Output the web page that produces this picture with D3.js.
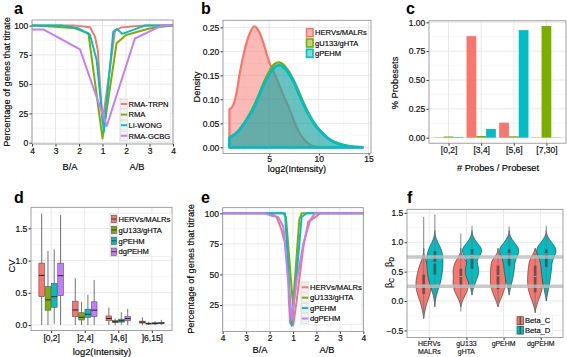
<!DOCTYPE html>
<html>
<head>
<meta charset="utf-8">
<script src="https://cdn.jsdelivr.net/npm/d3@7/dist/d3.min.js"></script>
<style>
  body { margin: 0; background: #fff; }
  svg { display: block; font-family: "Liberation Sans", Arial, sans-serif; }
</style>
</head>
<body>
<div id="fig"></div>
<script>
// ggplot hue palette
var hue = ["#F8766D", "#7CAE00", "#00BFC4", "#C77CFF"];

// titration axis: 0 = ratio 1, negative = B/A side, positive = A/B side
var ratioTicks = [-3, -2, -1, 0, 1, 2, 3];
var ratioLabels = ["4", "3", "2", "1", "2", "3", "4"];

// panel a
var aNames = ["RMA-TRPN", "RMA", "LI-WONG", "RMA-GCBG"];
var aTrpnX = [-3, -2, -1.17, -0.53, -0.32, -0.2, 0.0, 0.53, 0.8, 1.8, 3];
var aTrpnY = [100, 100, 100, 98.6, 90.6, 79, 17, 95.7, 98.5, 100, 100];
var aRmaX = [-3, -2, -1.17, -0.6, 0.0, 0.6, 1.0, 2, 2.5, 3];
var aRmaY = [100, 99, 97.7, 93.5, 3.7, 85, 92, 97.5, 99, 100];
var aWongX = [-3, -1.7, -1.03, -0.53, -0.25, 0.06, 0.46, 0.62, 0.84, 1.8, 3];
var aWongY = [100, 100, 97.7, 92, 70.7, 9.5, 95, 97, 93, 100, 100];
var aGcbgX = [-3, -2.5, -0.96, 0.18, 1.38, 2.52, 3];
var aGcbgY = [96.6, 96.6, 79.8, 14.3, 89, 100, 100];

// panel b: density of log2 intensity
var bNames = ["HERVs/MALRs", "gU133/gHTA", "gPEHM"];
var bX = [1, 1.3, 1.7, 2, 2.5, 3, 3.5, 4, 4.5, 5, 5.5, 6, 6.5, 7, 7.5, 8, 8.5, 9, 9.5, 10, 10.5, 11, 11.5, 12, 12.5, 13, 13.5, 14, 14.4];
var bHervs = [0.08, 0.085, 0.112, 0.15, 0.2, 0.235, 0.252, 0.24, 0.212, 0.178, 0.155, 0.13, 0.105, 0.082, 0.055, 0.032, 0.017, 0.007, 0.002, 0.001, 0, 0, 0, 0, 0, 0, 0, 0, 0];
var bGu133 = [0.02, 0.024, 0.03, 0.037, 0.051, 0.068, 0.088, 0.112, 0.137, 0.158, 0.173, 0.177, 0.171, 0.157, 0.138, 0.115, 0.091, 0.07, 0.052, 0.038, 0.027, 0.018, 0.012, 0.008, 0.005, 0.003, 0.0015, 0.0006, 0];
var bGpehm = [0.02, 0.024, 0.03, 0.036, 0.05, 0.066, 0.085, 0.108, 0.132, 0.152, 0.166, 0.171, 0.166, 0.153, 0.135, 0.11, 0.087, 0.067, 0.05, 0.037, 0.026, 0.017, 0.011, 0.007, 0.004, 0.002, 0.001, 0.0004, 0];

// panel c: share of probesets by probes per probeset
var cBins = ["[0,2]", "[3,4]", "[5,6]", "[7,30]"];
var cHervs = [0.003, 0.88, 0.13, 0.003];
var cGu133 = [0.01, 0.015, 0.012, 0.968];
var cGpehm = [0.005, 0.075, 0.932, 0.002];

// panel d: CV boxplots [min, q1, median, q3, max]
var dNames = ["HERVs/MALRs", "gU133/gHTA", "gPEHM", "dgPEHM"];
var dBins = ["[0,2]", "]2,4]", "]4,6]", "]6,15]"];
var dHervs = [[0, 0.44, 0.77, 0.96, 1.73], [0, 0.13, 0.233, 0.37, 0.725], [0, 0.066, 0.1, 0.14, 0.27], [0, 0.03, 0.045, 0.06, 0.12]];
var dGu133 = [[0, 0.23, 0.39, 0.595, 1.15], [0, 0.078, 0.12, 0.19, 0.36], [0, 0.04, 0.05, 0.07, 0.1], [0, 0.015, 0.02, 0.03, 0.05]];
var dGpehm = [[0.02, 0.275, 0.44, 0.645, 1.17], [0, 0.12, 0.166, 0.245, 0.47], [0, 0.045, 0.065, 0.09, 0.2], [0, 0.015, 0.025, 0.035, 0.06]];
var dDgpehm = [[0, 0.455, 0.765, 0.96, 1.71], [0, 0.13, 0.23, 0.36, 0.7], [0, 0.065, 0.1, 0.13, 0.25], [0, 0.02, 0.03, 0.04, 0.08]];

// panel e
var eNames = ["HERVs/MALRs", "gU133/gHTA", "gPEHM", "dgPEHM"];
var eHervsX = [-3, -0.98, -0.7, -0.48, -0.38, -0.22, -0.18, -0.12, 0.01, 0.16, 0.44, 0.65, 1.01, 1.15, 3];
var eHervsY = [100, 100, 97, 86, 78, 74, 30, 10, 8.5, 29, 72.6, 93, 97.7, 100, 100];
var eGu133X = [-3, -0.41, -0.3, 0.0, 0.27, 0.37, 3];
var eGu133Y = [100, 100, 97, 25, 95, 100, 100];
var eGpehmX = [-3, -0.34, -0.06, 0.16, 0.37, 0.58, 3];
var eGpehmY = [100, 100, 8, 51, 97, 100, 100];
var eDgpehmX = [-3, -1.19, -0.91, -0.63, -0.41, -0.2, -0.06, 0.16, 0.44, 0.73, 0.94, 3];
var eDgpehmY = [100, 100, 98, 97, 89, 43, 12.7, 45, 75, 94.4, 100, 100];

// panel f: violins of beta values, density on a common grid
var fCats = ["HERVs\nMALRs", "gU133\ngHTA", "gPEHM", "dgPEHM"];
var fGroups = ["Beta_C", "Beta_D"];
var fGridY = [-0.3, -0.2, -0.1, 0, 0.1, 0.2, 0.3, 0.4, 0.5, 0.6, 0.7, 0.8, 0.9, 1.0, 1.1, 1.2, 1.3];
var fDensC = [
  [0, 0.08, 0.2, 0.38, 0.6, 0.76, 0.8, 0.72, 0.6, 0.44, 0.2, 0.01, 0, 0, 0, 0, 0],
  [0, 0, 0, 0.14, 0.44, 0.72, 0.8, 0.74, 0.8, 0.72, 0.46, 0.03, 0, 0, 0, 0, 0],
  [0, 0, 0, 0.18, 0.44, 0.66, 0.76, 0.76, 0.76, 0.72, 0.62, 0.05, 0, 0, 0, 0, 0],
  [0, 0, 0.1, 0.3, 0.52, 0.7, 0.76, 0.76, 0.72, 0.66, 0.56, 0.18, 0, 0, 0, 0, 0]
];
var fDensD = [
  [0, 0, 0, 0.05, 0.15, 0.34, 0.54, 0.68, 0.76, 0.8, 0.82, 0.78, 0.6, 0.28, 0.05, 0, 0],
  [0, 0, 0, 0, 0, 0.1, 0.3, 0.56, 0.72, 0.6, 0.46, 0.96, 1.0, 0.45, 0.08, 0, 0],
  [0, 0, 0, 0, 0, 0.1, 0.26, 0.38, 0.5, 0.54, 0.62, 0.96, 1.0, 0.48, 0.08, 0, 0],
  [0, 0, 0, 0, 0.1, 0.22, 0.34, 0.42, 0.5, 0.54, 0.62, 0.96, 1.0, 0.52, 0.08, 0, 0]
];
// [min, q1, median, q3, max]
var fBoxC = [[-0.28, 0.12, 0.27, 0.45, 1.43], [-0.18, 0.25, 0.42, 0.55, 1.15], [-0.03, 0.2, 0.43, 0.6, 0.77], [-0.15, 0.15, 0.42, 0.6, 0.82]];
var fBoxD = [[-0.05, 0.45, 0.65, 0.85, 1.47], [0.15, 0.55, 0.78, 0.88, 1.28], [0.15, 0.6, 0.8, 0.88, 1.27], [0.07, 0.58, 0.8, 0.88, 1.28]];
var fRefLines = [0.25, 0.75];

// ---------------- drawing ----------------
var svg = d3.select("#fig").append("svg")
    .attr("width", 567)
    .attr("height", 357);
svg.append("rect").attr("width", 567).attr("height", 357).attr("fill", "#fff");

var textCol = "#111";
var tickSize = 8.5, titleSize = 9.3, legSize = 7.6;

function panel(l, t, r, b) {
    var g = svg.append("g").attr("transform", "translate(" + l + "," + t + ")");
    g.append("rect").attr("width", r - l).attr("height", b - t).attr("fill", "#fff");
    return { g: g, w: r - l, h: b - t, l: l, t: t };
}

function grid(p, x, y, xMaj, xMin, yMaj, yMin) {
    var gg = p.g.append("g");
    gg.selectAll(".ym").data(yMin).enter().append("line")
        .attr("x1", 0).attr("x2", p.w)
        .attr("y1", function (d) { return y(d); }).attr("y2", function (d) { return y(d); })
        .attr("stroke", "#f2f2f2").attr("stroke-width", 0.6);
    gg.selectAll(".xm").data(xMin).enter().append("line")
        .attr("y1", 0).attr("y2", p.h)
        .attr("x1", function (d) { return x(d); }).attr("x2", function (d) { return x(d); })
        .attr("stroke", "#f2f2f2").attr("stroke-width", 0.6);
    gg.selectAll(".yM").data(yMaj).enter().append("line")
        .attr("x1", 0).attr("x2", p.w)
        .attr("y1", function (d) { return y(d); }).attr("y2", function (d) { return y(d); })
        .attr("stroke", "#e8e8e8").attr("stroke-width", 1);
    gg.selectAll(".xM").data(xMaj).enter().append("line")
        .attr("y1", 0).attr("y2", p.h)
        .attr("x1", function (d) { return x(d); }).attr("x2", function (d) { return x(d); })
        .attr("stroke", "#e8e8e8").attr("stroke-width", 1);
}

function styleAxis(a) {
    a.attr("font-family", null).attr("font-size", tickSize);
    a.select(".domain").remove();
    a.selectAll("line").attr("stroke", "#333");
    a.selectAll("text").attr("fill", textCol).attr("stroke", textCol).attr("stroke-width", 0.2);
}

function axes(p, xAxis, yAxis) {
    var ax = p.g.append("g").attr("transform", "translate(0," + p.h + ")").call(xAxis);
    var ay = p.g.append("g").call(yAxis);
    styleAxis(ax);
    styleAxis(ay);
    return ax;
}

function border(p) {
    p.g.append("rect").attr("width", p.w).attr("height", p.h)
        .attr("fill", "none").attr("stroke", "#8a8a8a").attr("stroke-width", 0.8);
}

function label(x, y, txt, size, rotate, anchor) {
    var t = svg.append("text").attr("font-size", size).attr("fill", "#000")
        .attr("stroke", "#000").attr("stroke-width", 0.15)
        .attr("text-anchor", anchor || "middle").text(txt);
    if (rotate) {
        t.attr("transform", "translate(" + x + "," + y + ") rotate(-90)").attr("dy", "0.35em");
    } else {
        t.attr("x", x).attr("y", y);
    }
    return t;
}

function legText(x, y, txt) {
    svg.append("text").attr("x", x).attr("y", y).attr("font-size", legSize)
        .attr("fill", "#000").attr("stroke", "#000").attr("stroke-width", 0.15).text(txt);
}

function letter(x, y, txt) {
    svg.append("text").attr("x", x).attr("y", y).attr("font-size", 16)
        .attr("font-weight", "bold").attr("fill", "#000").text(txt);
}

function legendBox(x, y, w, h) {
    svg.append("rect").attr("x", x).attr("y", y).attr("width", w).attr("height", h)
        .attr("fill", "#fff").attr("stroke", "#e0e0e0").attr("stroke-width", 0.5);
}

function keyBg(x, yc) {
    svg.append("rect").attr("x", x).attr("y", yc - 4.8).attr("width", 7).attr("height", 9.6)
        .attr("fill", "#f2f2f2").attr("stroke", "#d0d0d0").attr("stroke-width", 0.5);
}

var ratioAxis = function (x) {
    return d3.axisBottom(x).tickValues(ratioTicks)
        .tickFormat(function (d, i) { return ratioLabels[i]; })
        .tickSize(2.5).tickPadding(1.2);
};
var ratioMinor = [-2.5, -1.5, -0.5, 0.5, 1.5, 2.5];

// ---------- panel a ----------
(function () {
    var p = panel(32, 20, 173, 144);
    var x = d3.scaleLinear().domain([-3, 3]).range([0, p.w]);
    var y = d3.scaleLinear().domain([-1.1, 104.8]).range([p.h, 0]);
    grid(p, x, y, ratioTicks, ratioMinor, [0, 25, 50, 75, 100], [12.5, 37.5, 62.5, 87.5]);
    axes(p, ratioAxis(x), d3.axisLeft(y).tickValues([0, 25, 50, 75, 100]).tickSize(2.5).tickPadding(1.2));

    var series = [[aTrpnX, aTrpnY], [aRmaX, aRmaY], [aWongX, aWongY], [aGcbgX, aGcbgY]];
    var line = d3.line().x(function (d) { return x(d[0]); }).y(function (d) { return y(d[1]); });
    series.forEach(function (s, i) {
        p.g.append("path")
            .datum(d3.zip(s[0], s[1]))
            .attr("d", line)
            .attr("fill", "none")
            .attr("stroke", hue[i])
            .attr("stroke-width", 2)
            .attr("stroke-linejoin", "round");
    });
    border(p);

    // legend
    legendBox(119.5, 98.5, 51, 43);
    aNames.forEach(function (n, i) {
        var yc = 104 + i * 10.6;
        keyBg(120.5, yc);
        svg.append("line").attr("x1", 120.8).attr("x2", 127.2).attr("y1", yc).attr("y2", yc)
            .attr("stroke", hue[i]).attr("stroke-width", 2);
        legText(128.5, yc + 2.7, n);
    });

    label(70, 170, "B/A", titleSize);
    label(137, 170, "A/B", titleSize);
    label(6.5, 82, "Percentage of genes that titrate", titleSize, true);
    letter(14, 14, "a");
})();

// ---------- panel b ----------
(function () {
    var p = panel(223, 20.3, 371, 153.4);
    var x = d3.scaleLinear().domain([0.35, 15.25]).range([0, p.w]);
    var y = d3.scaleLinear().domain([-0.0126, 0.2646]).range([p.h, 0]);
    grid(p, x, y, [5, 10, 15], [2.5, 7.5, 12.5], [0, 0.05, 0.1, 0.15, 0.2, 0.25], [0.025, 0.075, 0.125, 0.175, 0.225]);
    axes(p,
        d3.axisBottom(x).tickValues([5, 10, 15]).tickSize(2).tickPadding(0.8),
        d3.axisLeft(y).tickValues([0, 0.05, 0.1, 0.15, 0.2, 0.25]).tickFormat(d3.format(".2f")).tickSize(2.5).tickPadding(1.2));

    var area = d3.area()
        .x(function (d) { return x(d[0]); })
        .y0(y(0))
        .y1(function (d) { return y(d[1]); })
        .curve(d3.curveMonotoneX);
    var sets = [bHervs, bGu133, bGpehm];
    var widths = [2.2, 2.4, 2.8];
    var alphas = [0.5, 0.2, 0.62];
    sets.forEach(function (vals, i) {
        var pts = d3.zip(bX, vals);
        p.g.append("path")
            .datum(pts)
            .attr("d", function (d) { return area(d) + "Z"; })
            .attr("fill", i === 2 ? "#1aa6b8" : hue[i])
            .attr("fill-opacity", alphas[i])
            .attr("stroke", hue[i])
            .attr("stroke-width", widths[i])
            .attr("stroke-linejoin", "round");
    });
    border(p);

    // legend
    bNames.forEach(function (n, i) {
        var yc = 32.7 + i * 10.3;
        svg.append("rect").attr("x", 306.5).attr("y", yc - 4).attr("width", 6.5).attr("height", 8)
            .attr("fill", hue[i]).attr("fill-opacity", 0.5)
            .attr("stroke", hue[i]).attr("stroke-width", 1.6);
        legText(315, yc + 2.7, n);
    });

    label(297, 172, "log2(Intensity)", titleSize);
    label(197, 87, "Density", titleSize, true);
    letter(201, 14, "b");
})();

// ---------- panel c ----------
(function () {
    var p = panel(429, 20.8, 566, 143.2);
    var x = d3.scalePoint().domain(cBins).range([0, p.w]).padding(0.6);
    var y = d3.scaleLinear().domain([-0.048, 1.013]).range([p.h, 0]);
    var step = x.step();
    grid(p, x, y, cBins, [], [0, 0.25, 0.5, 0.75, 1], [0.125, 0.375, 0.625, 0.875]);
    axes(p,
        d3.axisBottom(x).tickSize(2.5).tickPadding(1.5),
        d3.axisLeft(y).tickValues([0, 0.25, 0.5, 0.75, 1]).tickFormat(d3.format(".2f")).tickSize(2.5).tickPadding(1.2));

    var bw = step * 0.9 / 3;
    [cHervs, cGu133, cGpehm].forEach(function (vals, j) {
        p.g.selectAll(".bar" + j)
            .data(vals)
            .enter().append("rect")
            .attr("x", function (d, i) { return x(cBins[i]) - step * 0.45 + j * bw; })
            .attr("width", bw)
            .attr("y", function (d) { return y(d); })
            .attr("height", function (d) { return y(0) - y(d); })
            .attr("fill", hue[j]);
    });
    border(p);

    label(498, 171, "# Probes / Probeset", titleSize);
    label(395, 83, "% Probesets", titleSize, true);
    letter(406, 14, "c");
})();

// ---------- panel d ----------
(function () {
    var p = panel(31, 207.3, 172, 330.6);
    var x = d3.scalePoint().domain(dBins).range([0, p.w]).padding(0.6);
    var y = d3.scaleLinear().domain([-0.087, 1.827]).range([p.h, 0]);
    var step = x.step();
    grid(p, x, y, dBins, [], [0, 0.5, 1, 1.5], [0.25, 0.75, 1.25, 1.75]);
    axes(p,
        d3.axisBottom(x).tickSize(2.5).tickPadding(1.5),
        d3.axisLeft(y).tickValues([0, 0.5, 1, 1.5]).tickFormat(d3.format(".1f")).tickSize(2.5).tickPadding(1.2));

    var bw = step * 0.75 / 4;
    [dHervs, dGu133, dGpehm, dDgpehm].forEach(function (stats, j) {
        stats.forEach(function (s, i) {
            var cx = x(dBins[i]) - step * 0.375 + (j + 0.5) * bw;
            var wcol = j === 2 ? "#9a9a9a" : "#333";
            p.g.append("line").attr("x1", cx).attr("x2", cx)
                .attr("y1", y(s[0])).attr("y2", y(s[4]))
                .attr("stroke", wcol).attr("stroke-width", j === 2 ? 1.4 : 0.7);
            p.g.append("rect")
                .attr("x", cx - bw / 2 + 0.3).attr("width", bw - 0.6)
                .attr("y", y(s[3])).attr("height", y(s[1]) - y(s[3]))
                .attr("fill", hue[j]).attr("stroke", "#555").attr("stroke-width", 0.6);
            p.g.append("line").attr("x1", cx - bw / 2 + 0.3).attr("x2", cx + bw / 2 - 0.3)
                .attr("y1", y(s[2])).attr("y2", y(s[2]))
                .attr("stroke", "#222").attr("stroke-width", 1);
        });
    });
    border(p);

    // legend
    legendBox(109.5, 213.5, 62, 43);
    dNames.forEach(function (n, i) {
        var yc = 219 + i * 10.9;
        keyBg(110.5, yc);
        svg.append("rect").attr("x", 111.5).attr("y", yc - 3.6).attr("width", 5).attr("height", 7.2)
            .attr("fill", hue[i]).attr("stroke", "#555").attr("stroke-width", 0.6);
        svg.append("line").attr("x1", 111.5).attr("x2", 116.5).attr("y1", yc).attr("y2", yc)
            .attr("stroke", "#222").attr("stroke-width", 0.8);
        legText(118.5, yc + 2.7, n);
    });

    label(102, 355, "log2(Intensity)", titleSize);
    label(12, 266, "CV", titleSize, true);
    letter(14, 203, "d");
})();

// ---------- panel e ----------
(function () {
    var p = panel(222.7, 207.7, 363.3, 331.4);
    var x = d3.scaleLinear().domain([-3, 3]).range([0, p.w]);
    var y = d3.scaleLinear().domain([3.4, 104.6]).range([p.h, 0]);
    grid(p, x, y, ratioTicks, ratioMinor, [25, 50, 75, 100], [12.5, 37.5, 62.5, 87.5]);
    axes(p, ratioAxis(x), d3.axisLeft(y).tickValues([25, 50, 75, 100]).tickSize(2.5).tickPadding(1.2));

    var series = [[eHervsX, eHervsY], [eGu133X, eGu133Y], [eGpehmX, eGpehmY], [eDgpehmX, eDgpehmY]];
    var line = d3.line().x(function (d) { return x(d[0]); }).y(function (d) { return y(d[1]); });
    series.forEach(function (s, i) {
        p.g.append("path")
            .datum(d3.zip(s[0], s[1]))
            .attr("d", line)
            .attr("fill", "none")
            .attr("stroke", hue[i])
            .attr("stroke-width", 2)
            .attr("stroke-linejoin", "round");
    });
    border(p);

    legendBox(300.5, 281.8, 61, 43);
    eNames.forEach(function (n, i) {
        var yc = 287.3 + i * 10.4;
        keyBg(301.5, yc);
        svg.append("line").attr("x1", 301.8).attr("x2", 308.2).attr("y1", yc).attr("y2", yc)
            .attr("stroke", hue[i]).attr("stroke-width", 2);
        legText(310, yc + 2.7, n);
    });

    label(260, 353, "B/A", titleSize);
    label(327, 353, "A/B", titleSize);
    label(191, 269, "Percentage of genes that titrate", titleSize, true);
    letter(201, 203, "e");
})();

// ---------- panel f ----------
(function () {
    var p = panel(407, 209.3, 563, 337.5);
    var x = d3.scalePoint().domain(fCats).range([0, p.w]).padding(0.6);
    var y = d3.scaleLinear().domain([-0.62, 1.56]).range([p.h, 0]);
    var step = x.step();
    grid(p, x, y, fCats, [], [-0.5, 0, 0.5, 1, 1.5], [-0.25, 0.25, 0.75, 1.25]);
    axes(p,
        d3.axisBottom(x).tickFormat("").tickSize(2.5),
        d3.axisLeft(y).tickValues([-0.5, 0, 0.5, 1, 1.5]).tickFormat(d3.format(".1f")).tickSize(2.5).tickPadding(1.2));
    fCats.forEach(function (c) {
        c.split("\n").forEach(function (part, k) {
            svg.append("text").attr("x", p.l + x(c)).attr("y", p.t + p.h + 8.6 + k * 7.6)
                .attr("text-anchor", "middle").attr("font-size", 6.9).attr("fill", textCol)
                .attr("stroke", textCol).attr("stroke-width", 0.15).text(part);
        });
    });

    var hw = 10;
    var offs = [-step * 0.15, step * 0.15];
    var cols = [hue[0], hue[2]];
    [fDensC, fDensD].forEach(function (dens, j) {
        dens.forEach(function (vals, i) {
            var cx = x(fCats[i]) + offs[j];
            var pts = d3.zip(fGridY, vals).filter(function (d, k) {
                return d[1] > 0 || (vals[k - 1] > 0) || (vals[k + 1] > 0);
            });
            var area = d3.area()
                .y(function (d) { return y(d[0]); })
                .x0(function (d) { return cx - d[1] * hw; })
                .x1(function (d) { return cx + d[1] * hw; })
                .curve(d3.curveBasis);
            p.g.append("path").datum(pts).attr("d", area)
                .attr("fill", cols[j]).attr("stroke", "#333").attr("stroke-width", 0.6);
        });
    });
    // boxes inside violins
    [fBoxC, fBoxD].forEach(function (boxes, j) {
        boxes.forEach(function (s, i) {
            var cx = x(fCats[i]) + offs[j];
            p.g.append("line").attr("x1", cx).attr("x2", cx).attr("y1", y(s[0])).attr("y2", y(s[4]))
                .attr("stroke", "#777").attr("stroke-width", 0.9);
            p.g.append("rect").attr("x", cx - 1.4).attr("width", 2.8)
                .attr("y", y(s[3])).attr("height", y(s[1]) - y(s[3]))
                .attr("fill", "#444").attr("fill-opacity", 0.7);
            p.g.append("line").attr("x1", cx - 1.4).attr("x2", cx + 1.4).attr("y1", y(s[2])).attr("y2", y(s[2]))
                .attr("stroke", "#ddd").attr("stroke-width", 0.6);
        });
    });
    p.g.selectAll(".ref").data(fRefLines).enter().append("line")
        .attr("x1", 0).attr("x2", p.w)
        .attr("y1", function (d) { return y(d); }).attr("y2", function (d) { return y(d); })
        .attr("stroke", "#bdbdbd").attr("stroke-width", 3.5).attr("stroke-opacity", 0.8);
    border(p);

    // legend
    legendBox(515.5, 315, 37, 20);
    fGroups.forEach(function (n, i) {
        var yc = 320.7 + i * 9.4;
        svg.append("rect").attr("x", 517).attr("y", yc - 4).attr("width", 6.5).attr("height", 8)
            .attr("fill", cols[i]).attr("stroke", "#333").attr("stroke-width", 0.6);
        svg.append("line").attr("x1", 520.2).attr("x2", 520.2).attr("y1", yc - 4).attr("y2", yc + 4)
            .attr("stroke", "#444").attr("stroke-width", 1.2);
        legText(525, yc + 2.7, n);
    });

    // y title: beta_D over beta_C
    var t1 = label(389, 262, "", titleSize, true);
    t1.append("tspan").text("\u03b2");
    t1.append("tspan").attr("font-size", 6.5).attr("dy", "2").text("D");
    var t2 = label(389, 283, "", titleSize, true);
    t2.append("tspan").text("\u03b2");
    t2.append("tspan").attr("font-size", 6.5).attr("dy", "2").text("C");
    letter(407, 203, "f");
})();
</script>
</body>
</html>
